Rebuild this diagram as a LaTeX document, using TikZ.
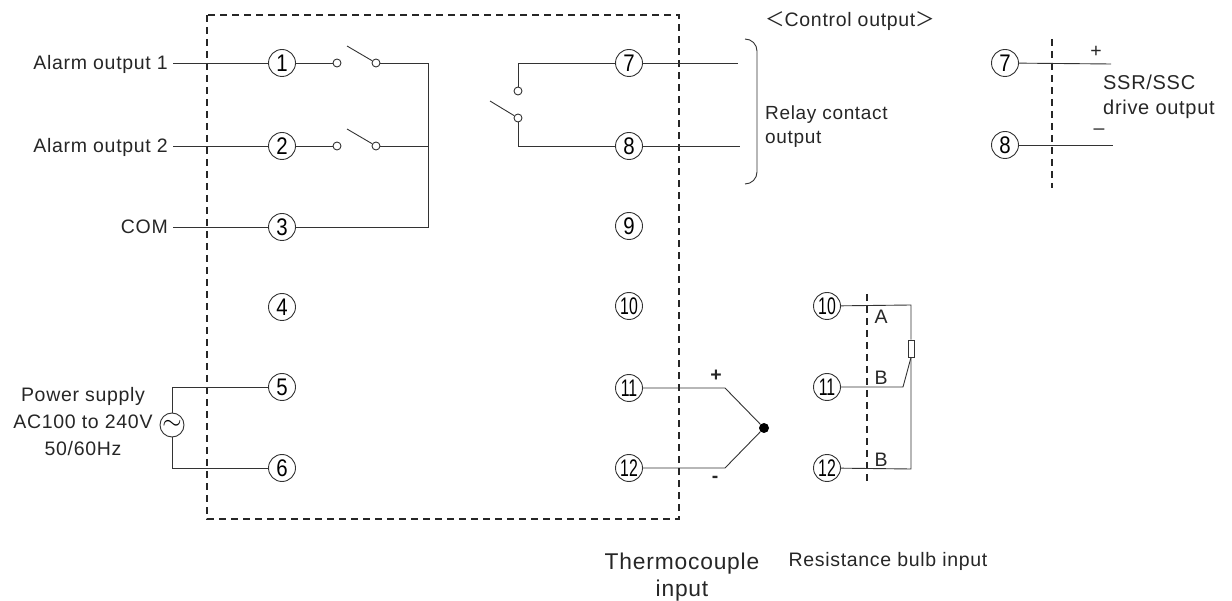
\documentclass[tikz,border=0pt]{standalone}
\usepackage{graphicx}
\usepackage{fontspec}
\setmainfont[LetterSpace=3.5]{Liberation Sans}
\newfontfamily\cjk{Noto Sans CJK JP}
\newfontfamily\digits{Liberation Sans}
\usetikzlibrary{calc}
\tikzset{
	wire/.style={line width=0.9pt, color=black!80},
	boxline/.style={line width=1.25pt, color=black!85, dash pattern=on 7pt off 5pt},
	term/.style={draw=black!80, line width=0.9pt, circle, fill=white, inner sep=0pt, minimum size=27pt, font=\fontsize{24}{24}\selectfont\digits},
	contact/.style={draw=black!80, line width=0.9pt, circle, fill=white, inner sep=0pt, minimum size=8pt},
	lbl/.style={color=black!85, font=\fontsize{19.5}{27}\selectfont, inner sep=0pt, align=center},
}
\newcommand{\onedigit}[1]{\scalebox{0.85}[1]{#1}}
\newcommand{\twodigit}[1]{\scalebox{0.66}[1]{#1}}
\begin{document}
\begin{tikzpicture}[x=1pt, y=-1pt]
			%%%%% START %%%%%
			\useasboundingbox (0, 0) rectangle (1232, 601);
			
			\draw[boxline] (207, 15) rectangle (679, 519);
			\draw[boxline] (1052, 39) -- (1052, 188);
			\draw[boxline] (867, 294) -- (867, 485);
			
			%% terminals of the unit
			\foreach \n/\px/\py in {1/282/63, 2/282/146, 3/282/227, 4/282/307, 5/282/387, 6/282/468, 7/629/63, 8/629/146, 9/629/226}
				\node[term] (t\n) at (\px, \py) {\onedigit{\n}};
			\foreach \n/\py in {10/306, 11/388, 12/468}
				\node[term] (t\n) at (629, \py) {\twodigit{\n}};
			
			%% alarm side
			\node[lbl, anchor=east] (alarmA) at (168, 64) {Alarm output 1};
			\node[lbl, anchor=east] (alarmB) at (168, 147) {Alarm output 2};
			\node[lbl, anchor=east] (com) at (168, 227) {COM};
			\coordinate (alarmAw) at (173, 63);
			\coordinate (alarmBw) at (173, 146);
			\coordinate (comw) at (173, 227);
			
			\node[contact] (ca1) at (337, 63) {};
			\node[contact] (ca2) at (376, 63) {};
			\node[contact] (cb1) at (337, 146) {};
			\node[contact] (cb2) at (376, 146) {};
			\coordinate (armA) at (347, 46);
			\coordinate (armB) at (347, 129);
			\coordinate (busA) at (428, 63);
			\coordinate (busB) at (428, 146);
			\coordinate (busC) at (428, 227);
			
			\draw[wire] (alarmAw) -- (t1);
			\draw[wire] (alarmBw) -- (t2);
			\draw[wire] (comw) -- (t3);
			\draw[wire] (t1) -- (ca1);
			\draw[wire] (t2) -- (cb1);
			\draw[wire] (armA) -- (ca2);
			\draw[wire] (armB) -- (cb2);
			\draw[wire] (ca2) -- (busA) -- (busC) -- (t3);
			\draw[wire] (cb2) -- (busB);
			
			%% power supply
			\node[lbl] (power) at (83, 422) {Power supply\\AC100 to 240V\\50/60Hz};
			\node[term, minimum size=24pt, font=\fontsize{28}{28}\selectfont] (ac) at (172, 425) {$\sim$};
			\coordinate (acA) at (172, 387);
			\coordinate (acB) at (172, 468);
			\draw[wire] (ac) -- (acA) -- (t5);
			\draw[wire] (ac) -- (acB) -- (t6);
			
			%% relay output
			\node[contact] (cr1) at (518, 91) {};
			\node[contact] (cr2) at (518, 118) {};
			\coordinate (armR) at (490, 101);
			\coordinate (relA) at (518, 63);
			\coordinate (relB) at (518, 146);
			\coordinate (outA) at (738, 63);
			\coordinate (outB) at (740, 146);
			\draw[wire] (cr1) -- (relA) -- (t7);
			\draw[wire] (cr2) -- (relB) -- (t8);
			\draw[wire] (armR) -- (cr2);
			\draw[wire] (t7) -- (outA);
			\draw[wire] (t8) -- (outB);
			\draw[wire] (745, 39) arc (-90:0:12) -- (757, 172) arc (0:90:12);
			
			\node[lbl, anchor=west] (ctrl) at (765, 21) {{\cjk ＜}Control output{\cjk ＞}};
			\node[lbl, anchor=west, align=left, font=\fontsize{19}{24}\selectfont] (relay) at (765, 127) {Relay contact\\output};
			
			%% SSR/SSC output
			\node[term] (s7) at (1005, 63) {\onedigit{7}};
			\node[term] (s8) at (1005, 145) {\onedigit{8}};
			\coordinate (ssrA) at (1111, 64);
			\coordinate (ssrB) at (1113, 145);
			\draw[wire] (s7) -- (ssrA);
			\draw[wire] (s8) -- (ssrB);
			\node[lbl] (plus) at (1096, 52) {+};
			\node[lbl] (minus) at (1099, 132) {–};
			\node[lbl, anchor=west, align=left, font=\fontsize{20}{25}\selectfont] (ssr) at (1103, 97) {SSR/SSC\\drive output};
			
			%% thermocouple
			\node[circle, fill=black, inner sep=0pt, minimum size=10pt] (hot) at (764, 428) {};
			\coordinate (tcA) at (725, 388);
			\coordinate (tcB) at (725, 468);
			\draw[wire] (t11) -- (tcA) -- (hot);
			\draw[wire] (t12) -- (tcB) -- (hot);
			\node[lbl, font=\fontsize{19.5}{27}\selectfont\bfseries] (tcplus) at (716, 376) {+};
			\node[lbl, font=\fontsize{19.5}{27}\selectfont\bfseries] (tcminus) at (715, 479) {-};
			\node[lbl, font=\fontsize{22.8}{27}\selectfont] (tclabel) at (682, 577) {Thermocouple\\input};
			
			%% resistance bulb
			\node[term] (r10) at (827, 306) {\twodigit{10}};
			\node[term] (r11) at (827, 387) {\twodigit{11}};
			\node[term] (r12) at (827, 468) {\twodigit{12}};
			\node[draw=black!80, line width=0.9pt, fill=white, inner sep=0pt, minimum width=6pt, minimum height=17pt] (bulb) at (911, 348.5) {};
			\coordinate (rA) at (911, 305);
			\coordinate (rB) at (903, 387);
			\coordinate (rC) at (911, 469);
			\draw[wire] (r10) -- (rA) -- (bulb);
			\draw[wire] (r11) -- (rB) -- (bulb.south);
			\draw[wire] (r12) -- (rC) -- (bulb);
			\node[lbl] (rlA) at (881, 317) {A};
			\node[lbl] (rlB) at (881, 378) {B};
			\node[lbl] (rlC) at (881, 460) {B};
			\node[lbl] (rlabel) at (888, 561) {Resistance bulb input};
			
			%%%%% END %%%%%
		\end{tikzpicture}
\end{document}
